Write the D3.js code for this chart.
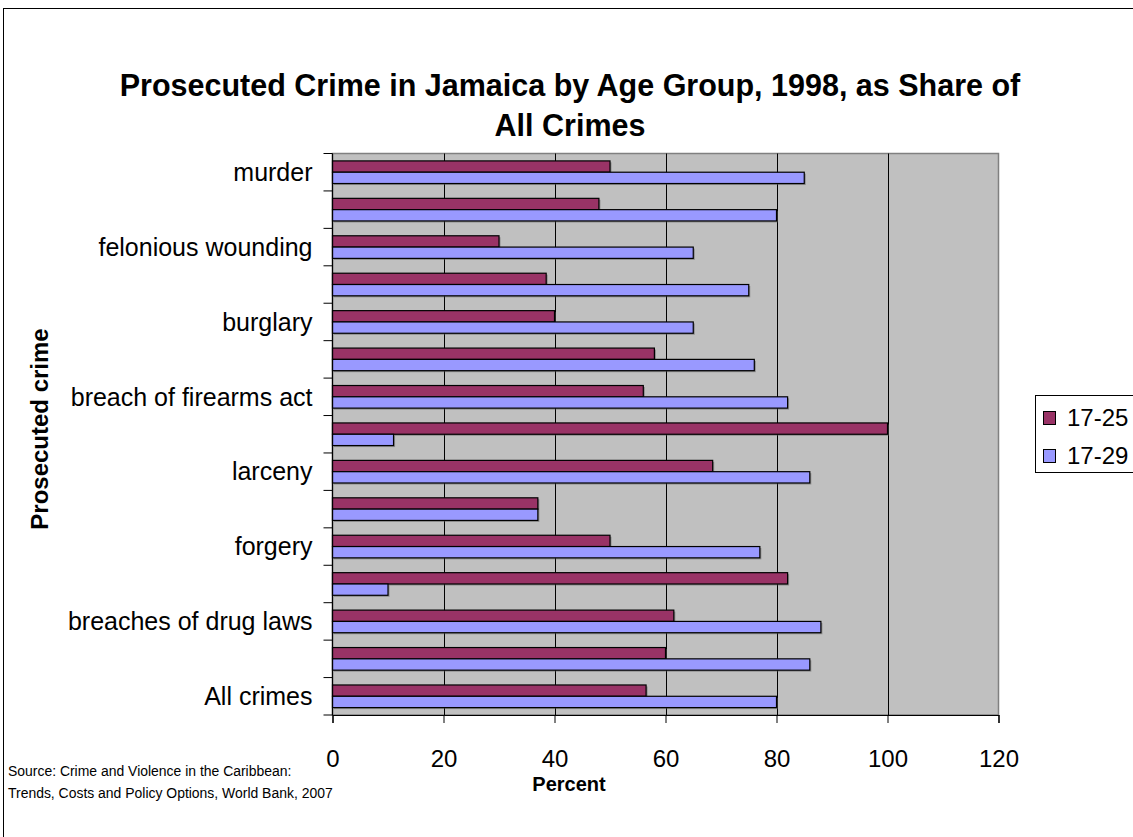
<!DOCTYPE html>
<html>
<head>
<meta charset="utf-8">
<script src="https://cdn.jsdelivr.net/npm/d3@7"></script>
<style>
  html, body { margin: 0; padding: 0; background: #fff; }
  svg { display: block; font-family: "Liberation Sans", Arial, sans-serif; }
</style>
</head>
<body>
<svg id="chart" width="1133" height="837"></svg>
<script>
// ---- data (top to bottom as displayed; unlabeled categories are not shown in the source) ----
const categories = [
  "murder", "", "felonious wounding", "", "burglary", "",
  "breach of firearms act", "", "larceny", "", "forgery", "",
  "breaches of drug laws", "", "All crimes"
];
const age17to25 = [50, 48, 30, 38.5, 40, 58, 56, 100, 68.5, 37, 50, 82, 61.5, 60, 56.5];
const age17to29 = [85, 80, 65, 75, 65, 76, 82, 11, 86, 37, 77, 10, 88, 86, 80];
const seriesNames = ["17-25", "17-29"];
const seriesColors = ["#993366", "#9999FF"];
const xTicks = [0, 20, 40, 60, 80, 100, 120];

const svg = d3.select("#chart");
const W = 1133, H = 837;

// outer chart border
svg.append("rect").attr("x", 3.5).attr("y", 8.5).attr("width", W + 10).attr("height", H + 10)
  .attr("fill", "#fff").attr("stroke", "#000").attr("stroke-width", 1);

const plot = { left: 332.5, right: 998.5, top: 153.5, bottom: 715 };

const x = d3.scaleLinear().domain([0, 120]).range([plot.left, plot.right]);
const idx = d3.range(categories.length);
const y = d3.scaleBand().domain(idx).range([plot.top, plot.bottom])
  .paddingInner(0.396).paddingOuter(0.198);
const ySub = d3.scaleBand().domain([0, 1]).range([0, y.bandwidth()]);

// plot area
svg.append("rect").attr("x", plot.left).attr("y", plot.top)
  .attr("width", plot.right - plot.left).attr("height", plot.bottom - plot.top)
  .attr("fill", "#C0C0C0").attr("stroke", "#808080").attr("stroke-width", 1.5);

// gridlines
svg.append("g").selectAll("line").data(xTicks.filter(t => t > 0 && t < 120)).join("line")
  .attr("x1", d => Math.round(x(d)) + 0.5).attr("x2", d => Math.round(x(d)) + 0.5)
  .attr("y1", plot.top).attr("y2", plot.bottom)
  .attr("stroke", "#000").attr("stroke-width", 1);

// bars
const series = [age17to25, age17to29];
const gBars = svg.append("g");
series.forEach((vals, s) => {
  gBars.append("g").selectAll("rect").data(idx).join("rect")
    .attr("x", x(0) + 1.5)
    .attr("y", i => y(i) + ySub(s) + 1.5)
    .attr("width", i => x(vals[i]) - x(0))
    .attr("height", ySub.bandwidth())
    .attr("fill", "#555").attr("opacity", 0.5);
});
series.forEach((vals, s) => {
  gBars.append("g").selectAll("rect").data(idx).join("rect")
    .attr("x", x(0))
    .attr("y", i => y(i) + ySub(s))
    .attr("width", i => x(vals[i]) - x(0))
    .attr("height", ySub.bandwidth())
    .attr("fill", seriesColors[s]).attr("stroke", "#000").attr("stroke-width", 1.2);
});

// y axis (labels at band centers, ticks at band boundaries)
const yAxis = svg.append("g").attr("transform", `translate(${plot.left},0)`)
  .call(d3.axisLeft(y).tickSize(0).tickPadding(20).tickFormat(i => categories[i]));
yAxis.select(".domain").remove();
yAxis.selectAll("text").attr("font-size", 25).attr("font-family", "Liberation Sans, Arial, sans-serif")
  .attr("fill", "#000").attr("dy", "0.35em");
const step = y.step();
svg.append("g").selectAll("line").data(d3.range(categories.length + 1)).join("line")
  .attr("x1", plot.left - 9).attr("x2", plot.left)
  .attr("y1", k => plot.top + k * step).attr("y2", k => plot.top + k * step)
  .attr("stroke", "#000").attr("stroke-width", 1);
svg.append("line").attr("x1", plot.left).attr("x2", plot.left)
  .attr("y1", plot.top).attr("y2", plot.bottom).attr("stroke", "#000").attr("stroke-width", 1.2);

// x axis
const xAxis = svg.append("g").attr("transform", `translate(0,${plot.bottom})`)
  .call(d3.axisBottom(x).tickValues(xTicks).tickSize(8).tickFormat(d3.format("d")));
xAxis.select(".domain").attr("stroke", "#000").attr("stroke-width", 1.2);
xAxis.selectAll(".tick line").attr("stroke", "#000");
xAxis.selectAll("text").attr("font-size", 24).attr("font-family", "Liberation Sans, Arial, sans-serif")
  .attr("fill", "#000").attr("y", 52).attr("dy", null);

// title
svg.append("text").attr("x", 570).attr("y", 96).attr("text-anchor", "middle")
  .attr("font-size", 30.5).attr("font-weight", "bold")
  .attr("transform", "translate(570,0) scale(1,1.05) translate(-570,-4.5)")
  .text("Prosecuted Crime in Jamaica by Age Group, 1998, as Share of");
svg.append("text").attr("x", 570).attr("y", 136).attr("text-anchor", "middle")
  .attr("font-size", 30.5).attr("font-weight", "bold")
  .attr("transform", "translate(570,0) scale(1,1.05) translate(-570,-6.5)")
  .text("All Crimes");

// axis titles
svg.append("text").attr("transform", "translate(48,429) rotate(-90)").attr("text-anchor", "middle")
  .attr("font-size", 24).attr("font-weight", "bold").text("Prosecuted crime");
svg.append("text").attr("x", 569).attr("y", 791).attr("text-anchor", "middle")
  .attr("font-size", 20).attr("font-weight", "bold").text("Percent");

// source
svg.append("text").attr("transform", "translate(8,776) scale(0.9,1)").attr("font-size", 15.5)
  .text("Source: Crime and Violence in the Caribbean:");
svg.append("text").attr("transform", "translate(8,798) scale(0.9,1)").attr("font-size", 15.5)
  .text("Trends, Costs and Policy Options, World Bank, 2007");

// legend
const lg = svg.append("g");
lg.append("rect").attr("x", 1035.5).attr("y", 395.5).attr("width", 120).attr("height", 77)
  .attr("fill", "#fff").attr("stroke", "#000").attr("stroke-width", 1);
seriesNames.forEach((n, s) => {
  const yy = 411 + s * 38;
  lg.append("rect").attr("x", 1043.5).attr("y", yy + 0.5).attr("width", 12).attr("height", 13)
    .attr("fill", seriesColors[s]).attr("stroke", "#000").attr("stroke-width", 1);
  lg.append("text").attr("x", 1067).attr("y", yy + 15).attr("font-size", 24).text(n);
});
</script>
</body>
</html>
